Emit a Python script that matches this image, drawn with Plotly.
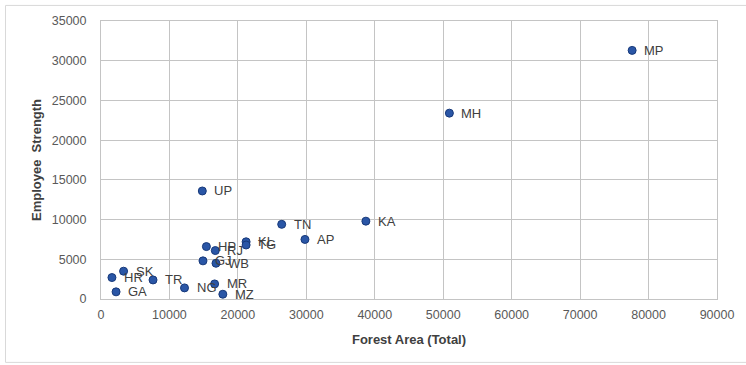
import plotly.graph_objects as go

# State-wise forest area vs. forest department employee strength
states = ["MP", "MH", "KA", "UP", "TN", "AP", "KL", "TG", "HP", "RJ",
          "GJ", "WB", "SK", "HR", "TR", "NG", "MR", "MZ", "GA"]
forest_area = [77600, 50900, 38700, 14800, 26400, 29800, 21200, 21200, 15400, 16700,
               14900, 16800, 3300, 1600, 7600, 12200, 16600, 17800, 2200]
employees = [31300, 23400, 9800, 13600, 9400, 7500, 7200, 6800, 6600, 6100,
             4800, 4500, 3500, 2700, 2400, 1400, 1900, 600, 900]

x_ticks = [0, 10000, 20000, 30000, 40000, 50000, 60000, 70000, 80000, 90000]
y_ticks = [0, 5000, 10000, 15000, 20000, 25000, 30000, 35000]

FONT = "Liberation Sans"
GRID = "#c4c4c4"

fig = go.Figure()
fig.add_trace(go.Scatter(
    x=forest_area, y=employees, mode="markers",
    marker=dict(size=8, color="#2a56a6", line=dict(color="#17397a", width=1)),
    hoverinfo="text", text=states, showlegend=False,
))

# State codes placed just to the right of each point
annotations = [
    dict(x=xv, y=yv, text=s, showarrow=False, xanchor="left", yanchor="middle",
         xshift=10, font=dict(family=FONT, size=13, color="#404040"))
    for s, xv, yv in zip(states, forest_area, employees)
]

fig.update_layout(
    width=746, height=365,
    margin=dict(l=101, r=29, t=21, b=66),
    paper_bgcolor="white", plot_bgcolor="white",
    font=dict(family=FONT, size=12, color="#595959"),
    annotations=annotations,
    xaxis=dict(
        range=[0, 90000], tickvals=x_ticks, ticktext=[str(v) for v in x_ticks],
        showgrid=True, gridcolor=GRID, gridwidth=1, zeroline=False,
        showline=True, linecolor=GRID, linewidth=1, mirror=True, ticks="",
        ticklabelstandoff=4,
        tickfont=dict(family=FONT, size=12.5, color="#595959"),
        title=dict(text="<b>Forest Area (Total)</b>", standoff=13,
                   font=dict(family=FONT, size=13, color="#404040")),
    ),
    yaxis=dict(
        range=[0, 35000], tickvals=y_ticks, ticktext=[str(v) for v in y_ticks],
        showgrid=True, gridcolor=GRID, gridwidth=1, zeroline=False,
        showline=True, linecolor=GRID, linewidth=1, mirror=True, ticks="",
        ticklabelstandoff=11,
        tickfont=dict(family=FONT, size=12.5, color="#595959"),
        title=dict(text="<b>Employee  Strength</b>", standoff=7,
                   font=dict(family=FONT, size=13, color="#404040")),
    ),
    shapes=[dict(type="rect", xref="paper", yref="paper",
                 x0=-0.155, x1=1.06, y0=-0.228, y1=1.056,
                 line=dict(color="#d9d9d9", width=1), layer="below")],
)

fig.write_html("out.html")
